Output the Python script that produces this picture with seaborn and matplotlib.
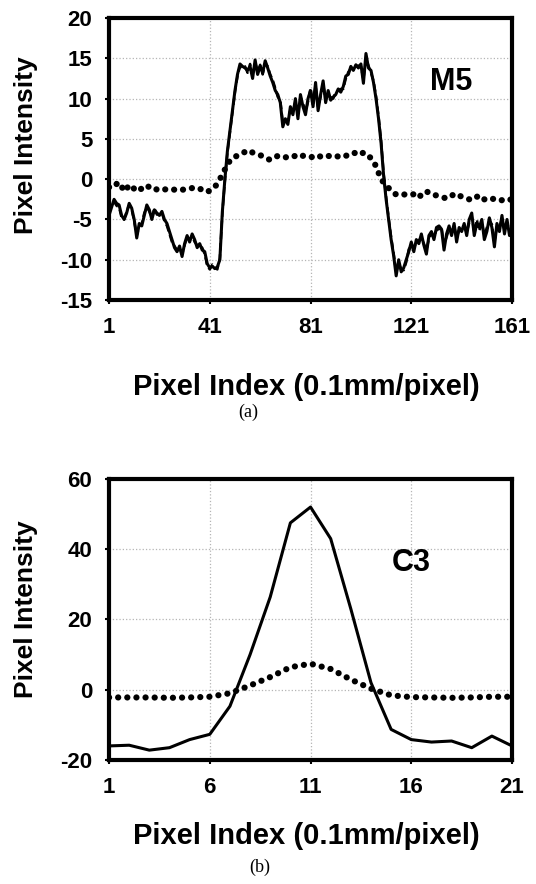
import numpy as np
import pandas as pd
import matplotlib
matplotlib.use("Agg")
import matplotlib.pyplot as plt
import seaborn as sns

sns.set_theme(style="white")
plt.rcParams['font.family'] = ['Liberation Sans', 'DejaVu Sans']
plt.rcParams['font.weight'] = 'bold'
plt.rcParams['text.color'] = 'black'
plt.rcParams['axes.labelcolor'] = 'black'
plt.rcParams['xtick.color'] = 'black'
plt.rcParams['ytick.color'] = 'black'
plt.rcParams['axes.unicode_minus'] = False

# ---- panel (a) : M5, pixel index 1..161
idx_a = np.arange(1, 162)
solid_a = [-4.5, -3.5, -2.5, -3.0, -3.2, -4.5, -5.0, -4.2, -3.0, -3.6,
           -5.0, -7.3, -5.5, -5.8, -4.5, -3.2, -3.8, -5.0, -3.8, -4.2,
           -4.5, -4.0, -5.0, -5.5, -6.5, -7.5, -8.5, -9.0, -8.3, -9.6,
           -8.0, -7.0, -7.8, -6.8, -7.5, -8.5, -8.0, -8.8, -9.0, -10.5,
           -11.0, -10.8, -11.1, -10.9, -10.0, -4.0, 0.0, 3.5, 6.0, 8.5,
           11.0, 13.0, 14.3, 14.0, 13.8, 13.5, 14.0, 12.5, 14.8, 13.0,
           14.0, 13.2, 14.7, 13.8, 12.8, 12.0, 11.0, 10.5, 9.5, 6.5,
           7.5, 6.8, 9.0, 8.0, 10.0, 7.5, 10.5, 9.0, 8.0, 10.0,
           11.0, 9.0, 12.0, 8.5, 10.5, 12.2, 9.5, 11.0, 9.8, 10.2,
           10.5, 11.2, 10.8, 11.5, 12.8, 13.0, 14.0, 13.5, 14.2, 13.8,
           14.3, 11.9, 15.6, 13.8, 13.5, 12.0, 10.0, 7.5, 4.5, 0.5,
           -2.5, -5.0, -7.5, -9.5, -12.0, -10.0, -11.5, -11.0, -10.0, -9.0,
           -7.8, -9.0, -7.5, -8.0, -6.8, -8.2, -9.3, -7.0, -6.5, -7.5,
           -6.0, -5.8, -6.2, -8.8, -6.8, -5.8, -7.0, -5.5, -7.8, -6.0,
           -6.5, -5.5, -7.0, -5.0, -4.2, -7.0, -5.5, -6.0, -5.0, -7.5,
           -6.5, -4.8, -6.0, -8.4, -5.5, -6.5, -4.5, -6.8, -5.0, -7.0, -6.0]
dashed_a = [-4.2, -3.2, -2.8, -3.3, -3.5, -4.8, -5.0, -4.0, -3.2, -3.8,
            -5.2, -7.0, -5.8, -5.5, -4.2, -3.5, -4.0, -4.8, -3.6, -4.4,
            -4.3, -4.2, -5.2, -5.8, -6.8, -7.8, -8.3, -8.8, -8.6, -9.3,
            -8.2, -7.2, -7.5, -7.0, -7.8, -8.2, -8.3, -8.5, -9.3, -10.8,
            -11.2, -10.6, -11.0, -11.2, -9.8, -4.2, -0.2, 3.3, 5.8, 8.3,
            10.8, 12.8, 14.0, 13.8, 14.0, 13.2, 14.3, 12.8, 14.5, 13.3,
            14.2, 13.0, 14.4, 14.0, 13.0, 12.3, 11.3, 10.2, 9.8, 7.0,
            7.2, 7.2, 8.6, 8.4, 9.6, 8.0, 10.2, 9.4, 8.4, 9.6,
            11.3, 9.4, 11.6, 9.0, 10.2, 11.8, 9.9, 10.6, 10.2, 10.0,
            10.8, 11.0, 11.2, 11.2, 12.5, 13.3, 13.7, 13.8, 14.0, 14.1,
            14.0, 12.4, 15.0, 14.1, 13.2, 12.2, 10.3, 7.8, 4.8, 0.8,
            -2.2, -4.8, -7.2, -9.2, -11.6, -10.4, -11.2, -11.3, -10.3, -8.7,
            -8.2, -8.6, -7.8, -7.6, -7.2, -8.0, -8.8, -7.4, -6.8, -7.2,
            -6.3, -6.2, -6.0, -8.2, -7.2, -6.2, -6.6, -5.8, -7.2, -6.4,
            -6.0, -5.8, -6.6, -5.4, -4.6, -6.6, -5.0, -6.4, -5.4, -7.0,
            -6.0, -5.2, -5.6, -7.8, -5.9, -6.0, -4.9, -6.3, -5.4, -6.5, -6.4]
dotted_a = [-1.0, -0.8, -0.5, -0.6, -0.4, -0.9, -1.5, -1.2, -0.7, -0.9,
            -1.2, -1.3, -1.5, -1.1, -0.8, -0.8, -1.0, -0.9, -1.1, -1.3,
            -1.4, -1.3, -1.3, -1.2, -1.3, -1.3, -1.3, -1.2, -1.2, -1.3,
            -1.3, -1.2, -1.2, -1.1, -1.2, -1.1, -1.2, -1.3, -1.5, -1.6,
            -1.4, -1.2, -1.0, -0.5, 0.0, 0.6, 1.2, 1.8, 2.3, 2.6,
            2.8, 2.9, 3.0, 3.2, 3.4, 3.6, 3.5, 3.3, 3.2, 3.1,
            3.0, 2.8, 2.6, 2.5, 2.4, 2.5, 2.7, 2.9, 2.9, 2.8,
            2.7, 2.8, 2.9, 2.8, 2.9, 2.7, 2.8, 2.9, 2.9, 2.8,
            2.7, 2.8, 3.0, 2.9, 2.8, 2.9, 3.0, 2.9, 2.8, 2.8,
            2.9, 2.8, 2.7, 2.8, 2.9, 3.0, 3.1, 3.3, 3.2, 3.0,
            3.1, 3.3, 3.2, 2.9, 2.6, 2.2, 1.6, 0.8, 0.0, -0.4,
            -0.8, -1.1, -1.4, -1.7, -1.9, -1.9, -1.8, -1.9, -1.9, -1.8,
            -1.8, -1.9, -2.0, -2.3, -1.9, -1.6, -1.5, -1.7, -1.9, -2.0,
            -2.0, -2.1, -2.2, -2.3, -2.4, -2.3, -2.1, -1.8, -1.9, -2.0,
            -2.2, -2.3, -2.4, -2.5, -2.6, -2.4, -2.2, -2.0, -2.2, -2.5,
            -2.6, -2.5, -2.4, -2.5, -2.6, -2.7, -2.6, -2.5, -2.4, -2.5, -2.6]

# ---- panel (b) : C3, pixel index 1..21
idx_b = np.arange(1, 22)
solid_b = [-16.0, -15.8, -17.2, -16.5, -14.2, -12.7, -4.7, 10.0, 26.4, 47.5,
           52.0, 43.0, 23.0, 2.0, -11.3, -14.2, -14.9, -14.6, -16.5, -13.2, -16.0]
dotted_b = [-2.2, -2.2, -2.2, -2.3, -2.2, -2.0, -1.0, 1.2, 3.6, 6.4,
            7.4, 5.9, 2.9, 0.3, -1.6, -2.1, -2.2, -2.3, -2.2, -2.0, -2.0]

dfa = pd.DataFrame({'idx': idx_a, 'solid': solid_a, 'dashed': dashed_a, 'dotted': dotted_a})
dfb = pd.DataFrame({'idx': idx_b, 'solid': solid_b, 'dotted': dotted_b})

fig = plt.figure(figsize=(5.36, 8.84), dpi=100)
ax1 = fig.add_axes([0.2034, 0.6606, 0.7519, 0.3190])
ax2 = fig.add_axes([0.2034, 0.1403, 0.7519, 0.3179])

dot_style = dict(color='black', lw=4.5, linestyle=(0, (0.01, 1.45)), dash_capstyle='round')

sns.lineplot(data=dfa, x='idx', y='dotted', ax=ax1, **dot_style)
sns.lineplot(data=dfa, x='idx', y='dashed', ax=ax1, color='black', lw=1.8, linestyle=(0, (3, 1.5)))
sns.lineplot(data=dfa, x='idx', y='solid', ax=ax1, color='black', lw=2.2)

sns.lineplot(data=dfb, x='idx', y='dotted', ax=ax2, **dot_style)
sns.lineplot(data=dfb, x='idx', y='solid', ax=ax2, color='black', lw=2.2)

def style(ax, xt, yt, ylim):
    ax.set_xlim(xt[0], xt[-1])
    ax.set_ylim(*ylim)
    ax.set_xticks(xt)
    ax.set_yticks(yt)
    ax.grid(True, color='#b5b5b5', linestyle=':', lw=0.9)
    for s in ax.spines.values():
        s.set_visible(True)
        s.set_color('black')
        s.set_linewidth(3.0)
    ax.tick_params(axis='both', which='major', direction='out', length=3, width=1.5,
                   color='black', labelsize=16, pad=9, bottom=True, left=True)
    for lab in ax.get_xticklabels() + ax.get_yticklabels():
        lab.set_fontweight('bold')
    ax.set_ylabel('Pixel Intensity', fontsize=19, fontweight='bold')
    ax.set_xlabel('Pixel Index (0.1mm/pixel)', fontsize=21, fontweight='bold')

style(ax1, [1, 41, 81, 121, 161], [-15, -10, -5, 0, 5, 10, 15, 20], (-15, 20))
style(ax2, [1, 6, 11, 16, 21], [-20, 0, 20, 40, 60], (-20, 60))
ax1.yaxis.set_label_coords(-0.175, 0.55)
ax2.yaxis.set_label_coords(-0.175, 0.535)
ax1.xaxis.set_label_coords(0.49, -0.26)
ax2.xaxis.set_label_coords(0.49, -0.22)

ax1.text(137, 12, 'M5', fontsize=22, fontweight='bold', ha='center', va='center')
ax2.text(16, 36, 'C3', fontsize=22, fontweight='bold', ha='center', va='center')

fig.text(248 / 536, 1 - 412 / 884, '(a)', family='Liberation Serif', fontweight='normal',
         fontsize=13, ha='center', va='center')
fig.text(260 / 536, 1 - 867 / 884, '(b)', family='Liberation Serif', fontweight='normal',
         fontsize=13, ha='center', va='center')

fig.savefig('out.png', dpi=100)
